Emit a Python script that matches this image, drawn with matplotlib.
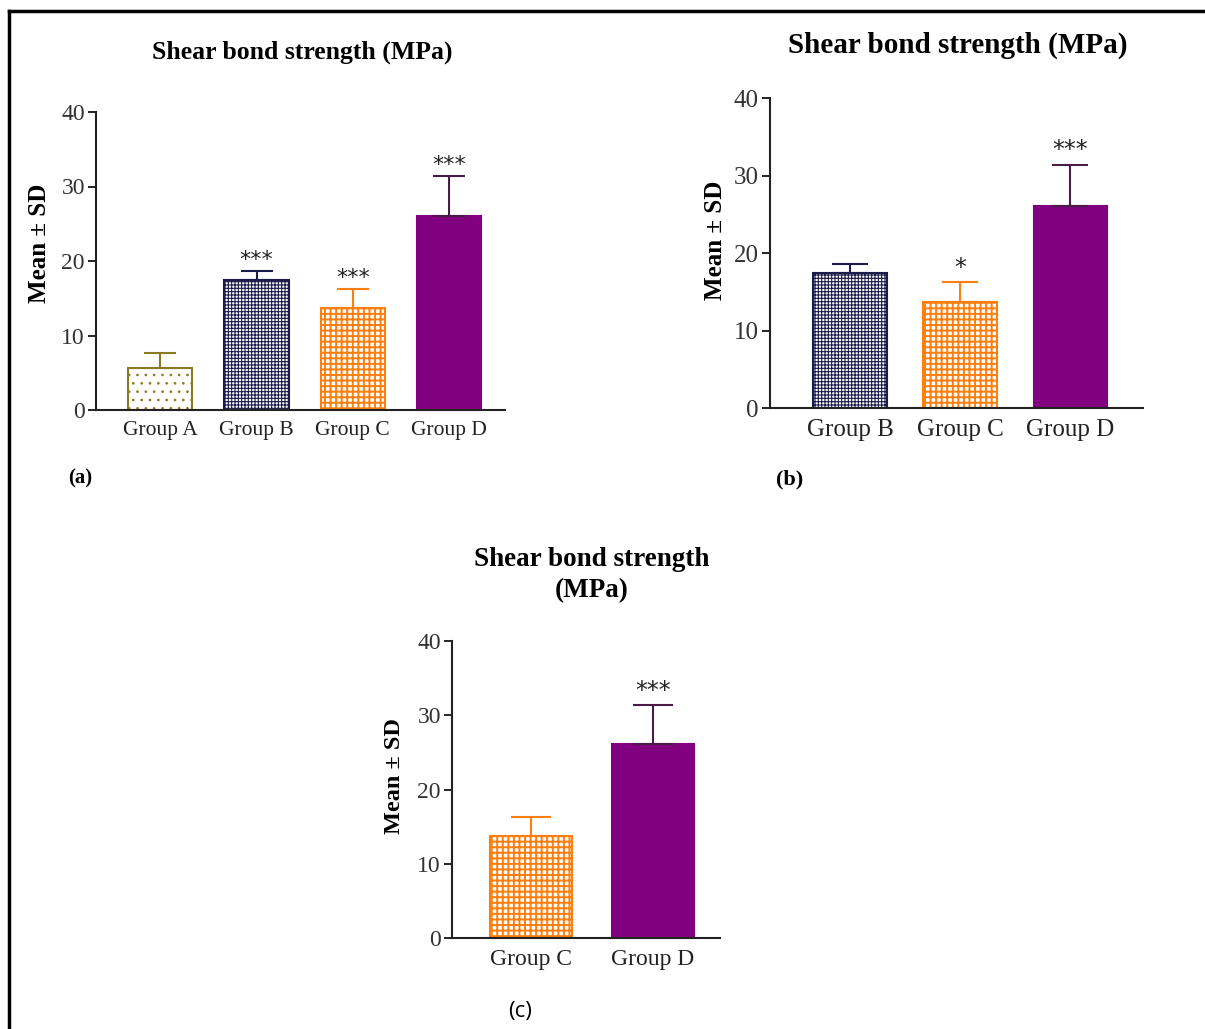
import matplotlib
matplotlib.use("Agg")
import matplotlib.pyplot as plt
from matplotlib.lines import Line2D

plt.rcParams["font.family"] = ["Liberation Serif", "DejaVu Serif"]

W, H = 1205, 1029

# ---- data -----------------------------------------------------------------
groups_a = ["Group A", "Group B", "Group C", "Group D"]
means_a = [5.7, 17.4, 13.7, 26.1]
sds_a = [2.0, 1.2, 2.5, 5.3]
stars_a = ["", "***", "***", "***"]

groups_b = ["Group B", "Group C", "Group D"]
means_b = [17.4, 13.7, 26.1]
sds_b = [1.2, 2.5, 5.3]
stars_b = ["", "*", "***"]

groups_c = ["Group C", "Group D"]
means_c = [13.7, 26.1]
sds_c = [2.6, 5.3]
stars_c = ["", "***"]

yticks = [0, 10, 20, 30, 40]

# look of each group: edge colour, face, hatch, hatch width, error colour
STYLE = {
    "Group A": dict(edge="#8a7a22", face="white", hatch="..", hlw=0.7,
                    err="#8a7a22"),
    "Group B": dict(edge="#1c1c4a", face="white", hatch="+++++", hlw=0.8,
                    err="#1c1c4a"),
    "Group C": dict(edge="#ff7f0e", face="white", hatch="+++", hlw=1.4,
                    err="#ff7f0e"),
    "Group D": dict(edge="#800080", face="#800080", hatch=None, hlw=1.0,
                    err="#4b1a47"),
}


def px(x, y):
    return x / W, 1 - y / H


def panel(rect, groups, means, sds, stars, xlim, fs_tick, fs_lab, capsize,
          star_off, star_fs):
    ax = fig.add_axes(rect)
    xs = list(range(len(groups)))
    for x, g, m, s, st in zip(xs, groups, means, sds, stars):
        sty = STYLE[g]
        with plt.rc_context({"hatch.linewidth": sty["hlw"]}):
            ax.bar(x, m, width=0.67, color=sty["face"], edgecolor=sty["edge"],
                   hatch=sty["hatch"], linewidth=1.5, zorder=2)
        ax.errorbar(x, m, yerr=[[0], [s]], fmt="none", ecolor=sty["err"],
                    elinewidth=1.5, capsize=capsize, capthick=1.5, zorder=3)
        if st:
            ax.text(x, m + s + star_off, st, ha="center", va="bottom",
                    fontsize=star_fs, color="#222222",
                    family=["DejaVu Sans"])
    ax.set_xlim(*xlim)
    ax.set_ylim(0, 40)
    ax.set_yticks(yticks)
    ax.set_xticks(xs)
    ax.set_xticklabels(groups, fontsize=fs_lab, color="#222222")
    ax.tick_params(axis="x", length=0, pad=8)
    ax.tick_params(axis="y", length=6, width=1.2, labelsize=fs_tick, pad=2,
                   direction="out", labelcolor="#333333")
    for side in ("top", "right"):
        ax.spines[side].set_visible(False)
    for side in ("left", "bottom"):
        ax.spines[side].set_linewidth(1.5)
        ax.spines[side].set_color("#222222")
    return ax


fig = plt.figure(figsize=(W / 100, H / 100), dpi=100)
fig.patch.set_facecolor("white")

# (a)
panel([96 / W, 1 - 410 / H, 409 / W, 298 / H], groups_a, means_a, sds_a,
      stars_a, (-0.667, 3.58), 17, 15.5, 11.5, 0.2, 16)
# (b)
panel([770 / W, 1 - 408 / H, 373 / W, 310 / H], groups_b, means_b, sds_b,
      stars_b, (-0.73, 2.66), 18, 18, 13, 0.3, 17)
# (c)
panel([452 / W, 1 - 938 / H, 268 / W, 297 / H], groups_c, means_c, sds_c,
      stars_c, (-0.65, 1.55), 17, 17, 14.5, 0.3, 17)

# titles
fig.text(*px(302, 52), "Shear bond strength (MPa)", ha="center", va="center",
         fontsize=18.5, fontweight="bold")
fig.text(*px(958, 45), "Shear bond strength (MPa)", ha="center", va="center",
         fontsize=21, fontweight="bold")
fig.text(*px(592, 575), "Shear bond strength\n(MPa)", ha="center",
         va="center", fontsize=19.5, fontweight="bold", linespacing=1.3)

# y labels
fig.text(*px(40, 243), "Mean ± SD", rotation=90, ha="center", va="center",
         fontsize=18, fontweight="bold")
fig.text(*px(716, 240), "Mean ± SD", rotation=90, ha="center", va="center",
         fontsize=18, fontweight="bold")
fig.text(*px(395, 776), "Mean ± SD", rotation=90, ha="center", va="center",
         fontsize=17.5, fontweight="bold")

# panel letters
fig.text(*px(80, 478), "(a)", ha="center", va="center", fontsize=15,
         fontweight="bold")
fig.text(*px(790, 479), "(b)", ha="center", va="center", fontsize=16,
         fontweight="bold")
fig.text(*px(520, 1012), "(c)", ha="center", va="center", fontsize=16,
         family=["Open Sans", "DejaVu Sans"])

# frame (left and top edges only visible in the source)
fig.add_artist(Line2D([9 / W, 9 / W], [0, 1 - 11 / H], color="black",
                      linewidth=2.5, transform=fig.transFigure))
fig.add_artist(Line2D([9 / W, 1], [1 - 11 / H, 1 - 11 / H], color="black",
                      linewidth=2.5, transform=fig.transFigure))

fig.savefig("out.png", dpi=100, facecolor="white")
